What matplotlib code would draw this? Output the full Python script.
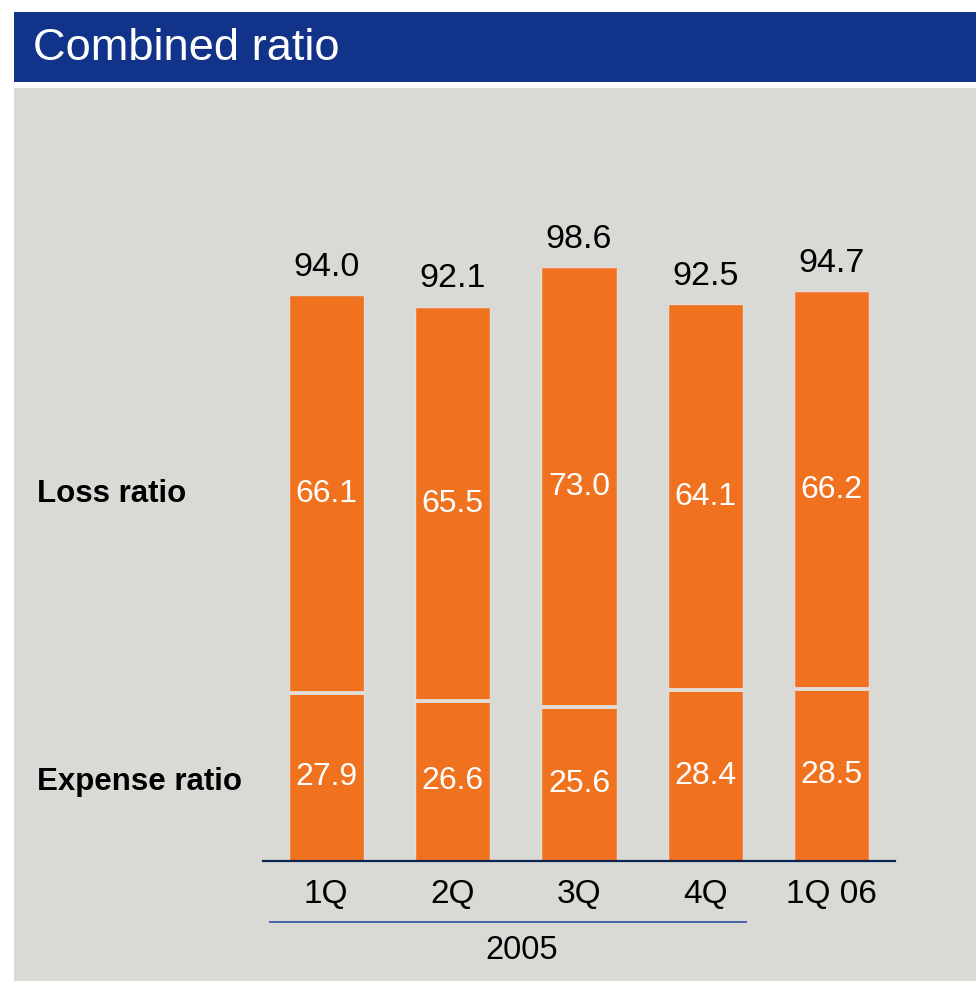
import numpy as np
import matplotlib
matplotlib.use("Agg")
import matplotlib.pyplot as plt
from matplotlib.patches import Rectangle
from matplotlib.lines import Line2D

plt.rcParams['font.family'] = ['Liberation Sans', 'DejaVu Sans']

# data
quarters = ["1Q", "2Q", "3Q", "4Q", "1Q 06"]
expense_ratio = [27.9, 26.6, 25.6, 28.4, 28.5]
loss_ratio = [66.1, 65.5, 73.0, 64.1, 66.2]
combined_ratio = [94.0, 92.1, 98.6, 92.5, 94.7]
year_label = "2005"

W, H = 976, 981
ORANGE = "#F0721E"
PANEL = "#D9D9D5"
TITLE_BLUE = "#12338A"
NAVY = "#0B2452"
GAP = "#E2DDD8"

def fx(px):
    return px / W

def fy(py):
    return 1 - py / H

fig = plt.figure(figsize=(W / 100, H / 100), dpi=100)
fig.patch.set_facecolor("white")

# title bar and grey panel
fig.patches.append(Rectangle((fx(14), fy(82)), fx(962), 70 / H, transform=fig.transFigure,
                             facecolor=TITLE_BLUE, edgecolor="none", zorder=-2))
fig.patches.append(Rectangle((fx(14), fy(981)), fx(962), 893 / H, transform=fig.transFigure,
                             facecolor=PANEL, edgecolor="none", zorder=-2))
fig.text(fx(33), fy(48), "Combined ratio", color="white", fontsize=32.6, va="center", ha="left")

# axes: bottom at y=861px, 6.02 px per unit
ax = fig.add_axes([fx(263), fy(861), fx(632), 602 / H])
ax.set_zorder(2)
ax.set_facecolor("none")
x = np.arange(len(quarters))
bw = 0.595
ax.bar(x, expense_ratio, width=bw, color=ORANGE, edgecolor=GAP, linewidth=1.0, zorder=2)
ax.bar(x, loss_ratio, width=bw, bottom=expense_ratio, color=ORANGE, edgecolor=GAP,
       linewidth=1.0, zorder=2)
# separator between the two segments
ax.hlines(expense_ratio, x - bw / 2, x + bw / 2, colors=GAP, linewidth=2.8, zorder=2.5)

for i in range(len(quarters)):
    ax.text(x[i], expense_ratio[i] / 2, f"{expense_ratio[i]:.1f}", color="white",
            fontsize=23, ha="center", va="center", zorder=3)
    ax.text(x[i], expense_ratio[i] + loss_ratio[i] / 2, f"{loss_ratio[i]:.1f}", color="white",
            fontsize=23, ha="center", va="center", zorder=3)
    ax.text(x[i], combined_ratio[i] + 4.6, f"{combined_ratio[i]:.1f}", color="black",
            fontsize=24.5, ha="center", va="center", zorder=3)

ax.set_xlim(-0.5, 4.5)
ax.set_ylim(0, 100)
for s in ["top", "left", "right"]:
    ax.spines[s].set_visible(False)
ax.spines["bottom"].set_color(NAVY)
ax.spines["bottom"].set_linewidth(1.6)
ax.set_yticks([])
ax.set_xticks(x)
ax.set_xticklabels(quarters, fontsize=24)
ax.tick_params(axis="x", length=0, pad=13)

# year bracket
ax.add_line(Line2D([-0.445, 3.32], [-10.2, -10.2], color="#4A62A6", linewidth=1.4,
                   clip_on=False, transform=ax.transData))
ax.text(1.55, -14.8, year_label, fontsize=23.5, ha="center", va="center", clip_on=False)

# row labels
fig.text(fx(37), fy(494), "Loss ratio", fontsize=22.5, fontweight="bold", va="center", ha="left")
fig.text(fx(37), fy(782), "Expense ratio", fontsize=22.5, fontweight="bold", va="center", ha="left")

fig.savefig("out.png", dpi=100)
